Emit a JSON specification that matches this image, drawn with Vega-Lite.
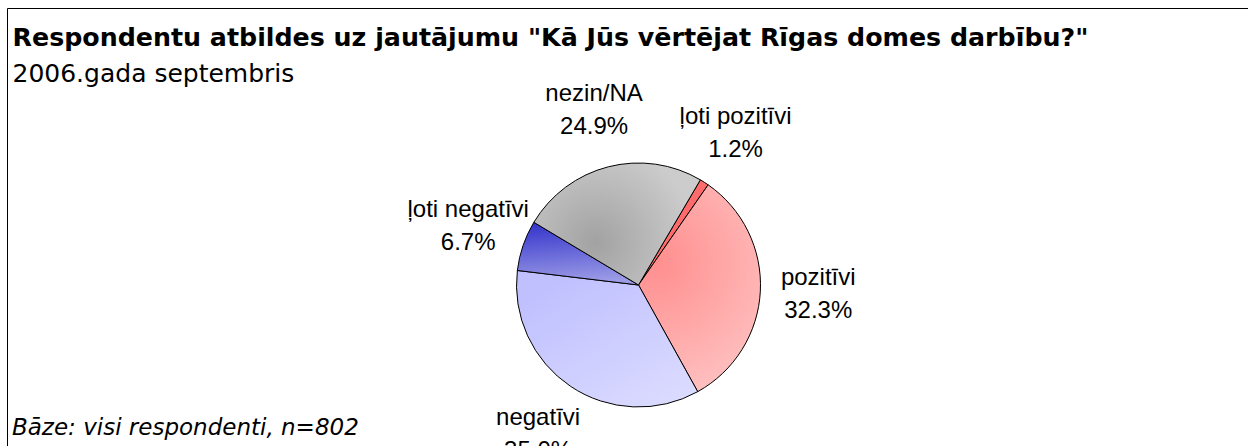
{
  "$schema": "https://vega.github.io/schema/vega-lite/v6.json",
  "autosize": {"type": "pad"},
  "padding": {"left": 6, "top": 7, "right": 0, "bottom": 0},
  "background": "white",
  "title": {
    "text": "Bāze: visi respondenti, n=802",
    "orient": "bottom",
    "anchor": "start",
    "frame": "group",
    "offset": -146,
    "dx": 5,
    "font": "DejaVu Sans",
    "fontSize": 23,
    "fontStyle": "italic",
    "fontWeight": "normal",
    "color": "black"
  },
  "vconcat": [
    {
      "width": 1263,
      "height": 554,
      "view": {"stroke": "black", "strokeWidth": 1, "fill": "white"},
      "title": {
        "text": "Respondentu atbildes uz jautājumu \"Kā Jūs vērtējat Rīgas domes darbību?\"",
        "subtitle": "2006.gada septembris",
        "orient": "top",
        "anchor": "start",
        "frame": "group",
        "offset": -79,
        "dx": 5.5,
        "font": "DejaVu Sans",
        "fontSize": 25.3,
        "fontWeight": "bold",
        "color": "black",
        "subtitleFont": "DejaVu Sans",
        "subtitleFontSize": 25,
        "subtitleFontWeight": "normal",
        "subtitleColor": "black",
        "subtitlePadding": 11
      },
      "data": {
        "values": [
          {"cat": "ļoti pozitīvi", "value": 0.012, "order": 1},
          {"cat": "pozitīvi", "value": 0.323, "order": 2},
          {"cat": "negatīvi", "value": 0.350, "order": 3},
          {"cat": "ļoti negatīvi", "value": 0.067, "order": 4},
          {"cat": "nezin/NA", "value": 0.249, "order": 5}
        ]
      },
      "layer": [
        {
          "mark": {"type": "arc", "outerRadius": 122, "stroke": "black", "strokeWidth": 1},
          "encoding": {
            "theta": {"field": "value", "type": "quantitative", "stack": true, "scale": {"domain": [0, 1.001], "range": [0.532, 6.8152]}},
            "order": {"field": "order", "type": "quantitative"},
            "fill": {
              "condition": [
                {"test": "datum.order == 1", "value": "#ff6a6a"},
                {"test": "datum.order == 2", "value": {"gradient": "radial", "x1": 0.29, "y1": 0.37, "r1": 0, "x2": 0.29, "y2": 0.37, "r2": 0.75, "stops": [{"offset": 0, "color": "#ff8e8e"}, {"offset": 1, "color": "#ffc6c6"}]}},
                {"test": "datum.order == 3", "value": {"gradient": "linear", "x1": 0.2, "y1": 0.1, "x2": 0.9, "y2": 1, "stops": [{"offset": 0, "color": "#c0c0ff"}, {"offset": 1, "color": "#dcdcff"}]}},
                {"test": "datum.order == 4", "value": {"gradient": "linear", "x1": 0.15, "y1": 0, "x2": 0.3, "y2": 1, "stops": [{"offset": 0, "color": "#3333cc"}, {"offset": 1, "color": "#9c9ce6"}]}}
              ],
              "value": {"gradient": "radial", "x1": 0.37, "y1": 0.61, "r1": 0, "x2": 0.37, "y2": 0.61, "r2": 0.6, "stops": [{"offset": 0, "color": "#a2a2a2"}, {"offset": 1, "color": "#cccccc"}]}
            }
          }
        },
        {
          "mark": {"type": "text", "radius": 180, "dy": -16.5, "font": "Liberation Sans", "fontSize": 24, "color": "black", "align": "center", "baseline": "middle"},
          "encoding": {
            "theta": {"field": "value", "type": "quantitative", "stack": true, "scale": {"domain": [0, 1.001], "range": [0.532, 6.8152]}},
            "order": {"field": "order", "type": "quantitative"},
            "text": {"field": "cat", "type": "nominal"}
          }
        },
        {
          "mark": {"type": "text", "radius": 180, "dy": 16.5, "font": "Liberation Sans", "fontSize": 24, "color": "black", "align": "center", "baseline": "middle"},
          "encoding": {
            "theta": {"field": "value", "type": "quantitative", "stack": true, "scale": {"domain": [0, 1.001], "range": [0.532, 6.8152]}},
            "order": {"field": "order", "type": "quantitative"},
            "text": {"field": "value", "type": "quantitative", "format": ".1%"}
          }
        }
      ]
    }
  ],
  "config": {
    "view": {"stroke": "black", "strokeWidth": 1},
    "style": {"cell": {"stroke": "black", "strokeWidth": 1}},
    "concat": {"spacing": 0}
  }
}
